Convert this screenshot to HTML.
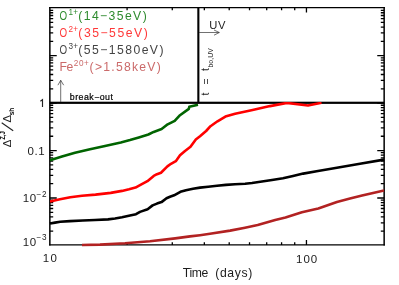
<!DOCTYPE html>
<html><head><meta charset="utf-8"><title>plot</title>
<style>
html,body{margin:0;padding:0;background:#fff;}
body{width:399px;height:285px;overflow:hidden;}
svg{display:block;will-change:transform;opacity:0.999;}
text{font-family:"Liberation Sans",sans-serif;}
</style></head><body>
<svg width="399" height="285" viewBox="0 0 399 285">
<rect width="399" height="285" fill="#fff"/>
<defs><clipPath id="cl"><rect x="49.85" y="101.9" width="334.3" height="143"/></clipPath></defs>
<g stroke="#000" fill="none">
<line x1="49.85" y1="7.0" x2="49.85" y2="245.55" stroke-width="1.5"/>
<line x1="384.15" y1="7.0" x2="384.15" y2="245.55" stroke-width="1.5"/>
<line x1="49.1" y1="7.6" x2="384.9" y2="7.6" stroke-width="1.2"/>
<line x1="49.1" y1="244.9" x2="384.9" y2="244.9" stroke-width="1.3"/>
<path d="M49.85,231.16h3.35 M384.15,231.16h-3.35 M49.85,222.81h3.35 M384.15,222.81h-3.35 M49.85,216.88h3.35 M384.15,216.88h-3.35 M49.85,212.28h3.35 M384.15,212.28h-3.35 M49.85,208.52h3.35 M384.15,208.52h-3.35 M49.85,205.34h3.35 M384.15,205.34h-3.35 M49.85,202.59h3.35 M384.15,202.59h-3.35 M49.85,200.16h3.35 M384.15,200.16h-3.35 M49.85,197.99h6.9 M384.15,197.99h-6.9 M49.85,183.70h3.35 M384.15,183.70h-3.35 M49.85,175.35h3.35 M384.15,175.35h-3.35 M49.85,169.42h3.35 M384.15,169.42h-3.35 M49.85,164.82h3.35 M384.15,164.82h-3.35 M49.85,161.06h3.35 M384.15,161.06h-3.35 M49.85,157.88h3.35 M384.15,157.88h-3.35 M49.85,155.13h3.35 M384.15,155.13h-3.35 M49.85,152.70h3.35 M384.15,152.70h-3.35 M49.85,150.53h6.9 M384.15,150.53h-6.9 M49.85,136.24h3.35 M384.15,136.24h-3.35 M49.85,127.89h3.35 M384.15,127.89h-3.35 M49.85,121.96h3.35 M384.15,121.96h-3.35 M49.85,117.36h3.35 M384.15,117.36h-3.35 M49.85,113.60h3.35 M384.15,113.60h-3.35 M49.85,110.42h3.35 M384.15,110.42h-3.35 M49.85,107.67h3.35 M384.15,107.67h-3.35 M49.85,105.24h3.35 M384.15,105.24h-3.35 M49.85,103.07h6.9 M384.15,103.07h-6.9 M49.85,88.78h3.35 M384.15,88.78h-3.35 M49.85,80.43h3.35 M384.15,80.43h-3.35 M49.85,74.50h3.35 M384.15,74.50h-3.35 M49.85,69.90h3.35 M384.15,69.90h-3.35 M49.85,66.14h3.35 M384.15,66.14h-3.35 M49.85,62.96h3.35 M384.15,62.96h-3.35 M49.85,60.21h3.35 M384.15,60.21h-3.35 M49.85,57.78h3.35 M384.15,57.78h-3.35 M49.85,55.61h6.9 M384.15,55.61h-6.9 M49.85,41.32h3.35 M384.15,41.32h-3.35 M49.85,32.97h3.35 M384.15,32.97h-3.35 M49.85,27.04h3.35 M384.15,27.04h-3.35 M49.85,22.44h3.35 M384.15,22.44h-3.35 M49.85,18.68h3.35 M384.15,18.68h-3.35 M49.85,15.50h3.35 M384.15,15.50h-3.35 M49.85,12.75h3.35 M384.15,12.75h-3.35 M49.85,10.32h3.35 M384.15,10.32h-3.35 M127.09,244.9v-2.6 M127.09,7.6v2.6 M172.28,244.9v-2.6 M172.28,7.6v2.6 M204.34,244.9v-2.6 M204.34,7.6v2.6 M229.21,244.9v-2.6 M229.21,7.6v2.6 M249.52,244.9v-2.6 M249.52,7.6v2.6 M266.70,244.9v-2.6 M266.70,7.6v2.6 M281.58,244.9v-2.6 M281.58,7.6v2.6 M294.71,244.9v-2.6 M294.71,7.6v2.6 M306.45,244.9v-5 M306.45,7.6v5" stroke-width="1.3"/>
</g>
<g fill="none" stroke-linejoin="round" stroke-linecap="butt" stroke-width="2.6">
<path d="M50.0,160.2 L62.0,156.5 L75.0,152.8 L90.0,149.3 L105.0,146.0 L120.8,142.5 L130.0,140.1 L138.8,137.5 L148.4,134.5 L153.7,131.9 L161.6,129.1 L167.7,124.3 L174.7,120.8 L180.0,115.2 L188.8,108.9 L189.3,106.8 L198.0,104.7" stroke="#006400"/>
<path d="M50.0,223.5 L55.0,222.6 L60.2,221.8 L70.0,221.1 L82.9,220.5 L95.0,220.0 L108.0,219.4 L115.0,218.5 L122.0,217.2 L130.0,215.5 L136.0,214.2 L140.0,211.9 L147.6,209.2 L152.6,205.4 L157.0,203.6 L161.5,202.1 L166.5,198.3 L170.0,196.8 L174.1,195.3 L180.4,191.8 L186.0,190.2 L193.0,188.7 L200.0,187.6 L208.2,186.7 L217.0,185.7 L225.9,184.9 L235.0,184.2 L245.1,183.8 L252.0,183.0 L260.3,181.8 L272.0,180.0 L283.0,178.3 L293.0,175.9 L303.2,173.6 L318.0,171.0 L336.9,167.8 L360.0,163.8 L384.0,159.6" stroke="#000"/>
<path d="M82.0,245.0 L100.0,244.6 L125.0,243.3 L150.0,241.3 L175.2,238.4 L190.0,236.4 L200.0,235.2 L210.0,233.8 L230.1,230.6 L245.0,227.7 L257.7,225.1 L275.2,220.1 L285.5,217.6 L301.9,212.3 L318.3,208.4 L336.9,201.9 L350.0,198.6 L362.1,195.6 L384.0,190.4" stroke="#b22222"/>
</g>
<rect x="49.85" y="101.7" width="334.29999999999995" height="2.2" fill="#000"/>
<rect x="197.3" y="7.6" width="2.1" height="95.0" fill="#000"/>
<path d="M50.0,201.6 L60.0,199.3 L70.3,197.2 L82.0,195.8 L95.5,194.6 L110.7,192.9 L122.0,190.9 L129.0,189.3 L135.5,187.6 L140.0,185.2 L147.4,181.2 L153.7,175.9 L157.0,174.2 L161.0,172.7 L167.4,166.4 L171.0,163.8 L175.8,161.2 L180.0,155.3 L185.0,151.0 L190.5,146.8 L195.8,139.5 L200.0,136.2 L206.1,131.0 L210.5,126.2 L217.5,121.3 L225.4,116.6 L235.1,113.8 L252.6,109.9 L270.0,106.1 L286.9,102.9 L308.0,105.5 L321.5,102.8" stroke="#ff0000" stroke-width="2.6" fill="none" stroke-linejoin="round" clip-path="url(#cl)"/>
<g stroke="#000" fill="none">
<path d="M60.7,102 V80.3 M57.9,85.2 L60.7,80.3 L63.7,85.2" stroke-width="0.7" stroke="#333"/>
<path d="M199,32.5 H219.3 M214,30 L219.3,32.5 L214,35.2" stroke-width="0.7" stroke="#333"/>
</g>
<g fill="#2e8b2e"><text x="59.4" y="19.7" font-size="12.2" textLength="7.6" lengthAdjust="spacingAndGlyphs">O</text><text x="68.4" y="14.799999999999999" font-size="8.2" textLength="9.6" lengthAdjust="spacing">1+</text><text x="78.3" y="19.7" font-size="12.2" textLength="68.4" lengthAdjust="spacing">(14−35eV)</text></g>
<g fill="#ff3838"><text x="59.4" y="36.7" font-size="12.2" textLength="7.6" lengthAdjust="spacingAndGlyphs">O</text><text x="68.4" y="31.800000000000004" font-size="8.2" textLength="9.6" lengthAdjust="spacing">2+</text><text x="78.3" y="36.7" font-size="12.2" textLength="69.4" lengthAdjust="spacing">(35−55eV)</text></g>
<g fill="#444"><text x="59.4" y="53.8" font-size="12.2" textLength="7.6" lengthAdjust="spacingAndGlyphs">O</text><text x="68.4" y="48.9" font-size="8.2" textLength="9.6" lengthAdjust="spacing">3+</text><text x="78.3" y="53.8" font-size="12.2" textLength="85.2" lengthAdjust="spacing">(55−1580eV)</text></g>
<g fill="#cb6a6a"><text x="59.6" y="70.9" font-size="12.2" textLength="13.6" lengthAdjust="spacing">Fe</text><text x="73.8" y="66.0" font-size="8.2" textLength="15" lengthAdjust="spacing">20+</text><text x="89.6" y="70.9" font-size="12.2" textLength="71.1" lengthAdjust="spacing">(&gt;1.58keV)</text></g>
<text x="69.8" y="100.4" font-size="8.8" textLength="43.1" lengthAdjust="spacing" fill="#000" stroke="#000" stroke-width="0.2">break−out</text>
<text x="209.2" y="29.1" font-size="11.2" textLength="16.2" lengthAdjust="spacing" fill="#222">UV</text>
<g font-size="10.5" fill="#222"><text transform="translate(209.3,95.4) rotate(-90)">t</text><text transform="translate(209.6,84.4) rotate(-90)">=</text><text transform="translate(209.3,71.1) rotate(-90)">t</text><text transform="translate(213.2,67.6) rotate(-90)" font-size="6.8" textLength="19.3" lengthAdjust="spacing">bo,UV</text></g>
<g fill="#222" font-size="11.5"><text transform="translate(11.4,147.3) rotate(-90)">Δ</text><text transform="translate(4.7,139.8) rotate(-90)" font-size="7" fill="#000" font-weight="bold" textLength="8.6" lengthAdjust="spacingAndGlyphs">Z,J</text><line x1="13.2" y1="130.8" x2="1.7" y2="122.8" stroke="#222" stroke-width="1.1"/><text transform="translate(11.4,122.6) rotate(-90)">Δ</text><text transform="translate(13.5,115.3) rotate(-90)" font-size="7" fill="#000" font-weight="bold" textLength="7.6" lengthAdjust="spacingAndGlyphs">sh</text></g>
<g font-size="11.5" fill="#1c1c1c">
<path d="M40.4,101.2 L42.5,99.6 V107.1" fill="none" stroke="#222" stroke-width="1.15"/>
<text x="27.6" y="155.3" textLength="17" lengthAdjust="spacing">0.1</text>
<text x="22.8" y="202.3" textLength="13.4" lengthAdjust="spacing">10</text><text x="36.4" y="197.1" font-size="8.2" textLength="10.2" lengthAdjust="spacing">−2</text>
<text x="22.8" y="245.7" textLength="13.4" lengthAdjust="spacing">10</text><text x="36.4" y="240.3" font-size="8.2" textLength="10.2" lengthAdjust="spacing">−3</text>
<text x="42.8" y="262.4" textLength="14" lengthAdjust="spacing">10</text>
<text x="296" y="262.5" textLength="21.2" lengthAdjust="spacing">100</text>
<text x="182.8" y="277.1" font-size="12.2" textLength="25.6" lengthAdjust="spacing">Time</text><text x="215.2" y="277.1" font-size="12.2" textLength="37" lengthAdjust="spacing">(days)</text>
</g>
</svg>
</body></html>
